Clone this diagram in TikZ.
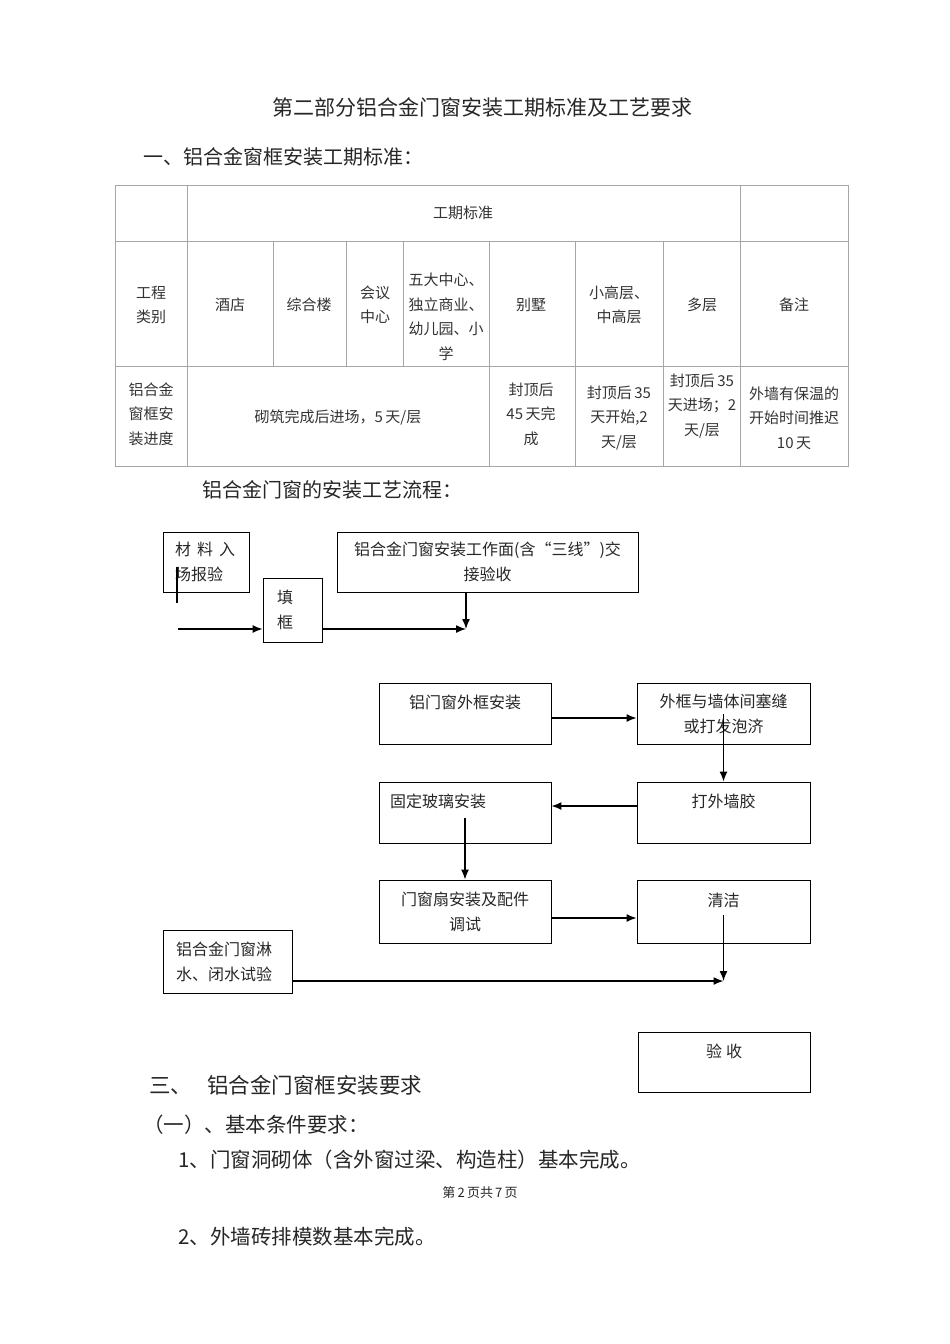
\documentclass[tikz,border=0pt]{standalone}
\usepackage{fontspec}
\setmainfont{Noto Sans CJK SC}
\usetikzlibrary{arrows.meta}
\usetikzlibrary{positioning}

\begin{document}
\begin{tikzpicture}
	[x=1pt,y=-1pt,
	 every node/.style={inner sep=0pt,text=black!85},
	 cell/.style={align=center,text=black!80,font=\fontsize{15}{24.5}\selectfont},
	 flowbox/.style={draw,line width=0.9pt,align=center,font=\fontsize{16}{25}\selectfont},
	 oneline/.style={text height=14pt,text depth=24pt},
	 flow/.style={-{Latex[length=10pt,width=8pt]},line width=1.4pt}]
	\useasboundingbox (0,0) rectangle (950,1344);
	
	\node[font=\fontsize{21}{21}\selectfont] (title) at (482,107) {第二部分铝合金门窗安装工期标准及工艺要求};
	\node[anchor=west,font=\fontsize{20}{20}\selectfont] (sec1) at (143,157) {一、铝合金窗框安装工期标准：};
	
	% table
	\draw[gray!70,line width=0.8pt] (115,185) rectangle (848,466);
	\draw[gray!70,line width=0.8pt] (115,241) -- (848,241) (115,366) -- (848,366);
	\foreach \x in {187,740}
	\draw[gray!70,line width=0.8pt] (\x,185) -- (\x,466);
	\foreach \x in {273,346,403}
	\draw[gray!70,line width=0.8pt] (\x,241) -- (\x,366);
	\foreach \x in {489,575,663}
	\draw[gray!70,line width=0.8pt] (\x,241) -- (\x,466);
	
	\node[cell] (period) at (463,213) {工期标准};
	\node[cell] (kind) at (151,305) {工程\\类别};
	\node[cell] (hotel) at (230,305) {酒店};
	\node[cell] (complex) at (309,305) {综合楼};
	\node[cell] (conf) at (375,305) {会议\\中心};
	\node[cell] (centre) at (446,317) {五大中心、\\独立商业、\\幼儿园、小\\学};
	\node[cell] (villa) at (531,305) {别墅};
	\node[cell] (highrise) at (619,305) {小高层、\\中高层};
	\node[cell] (multi) at (702,305) {多层};
	\node[cell] (note) at (794,305) {备注};
	\node[cell] (progress) at (151,414) {铝合金\\窗框安\\装进度};
	\node[cell] (masonry) at (338,417) {砌筑完成后进场，5\,天/层};
	\node[cell] (villa-d) at (531,414) {封顶后\\45\,天完\\成};
	\node[cell] (high-d) at (619,418) {封顶后\,35\\天开始,2\\天/层};
	\node[cell] (multi-d) at (702,406) {封顶后\,35\\天进场；2\\天/层};
	\node[cell] (note-d) at (794,418) {外墙有保温的\\开始时间推迟\\10\,天};
	
	% flow chart
	\node[anchor=west,font=\fontsize{20}{20}\selectfont] (flowtitle) at (202,490) {铝合金门窗的安装工艺流程：};
	
	\node[flowbox,minimum width=86pt,minimum height=60pt,text width=62pt,align=left,inner xsep=12pt] (mat) at (206,562) {材\hspace{6pt}料\hspace{6pt}入\\场报验};
	\node[flowbox,minimum width=59pt,minimum height=64pt,text width=31pt,align=left,inner xsep=14pt] (fill) at (292.5,610) {填\\框};
	\node[flowbox,minimum width=301pt,minimum height=60pt] (face) at (487.5,562) {铝合金门窗安装工作面(含“三线”)交\\接验收};
	\node[flowbox,oneline,minimum width=172pt,minimum height=61pt] (outer) at (465,713.5) {铝门窗外框安装};
	\node[flowbox,minimum width=173pt,minimum height=61pt] (seal) at (723.5,713.5) {外框与墙体间塞缝\\或打发泡济};
	\node[flowbox,oneline,minimum width=173pt,minimum height=61pt] (glue) at (723.5,812.5) {打外墙胶};
	\node[flowbox,oneline,minimum width=172pt,minimum height=61pt,text width=150pt,align=left,inner xsep=11pt] (glass) at (465,812.5) {固定玻璃安装};
	\node[flowbox,minimum width=172pt,minimum height=63pt] (sash) at (465,911.5) {门窗扇安装及配件\\调试};
	\node[flowbox,oneline,minimum width=173pt,minimum height=63pt] (clean) at (723.5,911.5) {清洁};
	\node[flowbox,minimum width=129pt,minimum height=63pt,text width=103pt,align=left,inner xsep=13pt] (test) at (227.5,961.5) {铝合金门窗淋\\水、闭水试验};
	\node[flowbox,oneline,minimum width=172pt,minimum height=60pt] (accept) at (724,1062) {验\hspace{4pt}收};
	
	\foreach \b in {mat,fill,face,outer,seal,glue,glass,sash,clean,test,accept}
	\draw[line width=1.5pt] (\b.north east) -- (\b.south east) -- (\b.south west);
	
	\coordinate (stub-a) at (177,567);
	\coordinate (stub-b) at (177,603);
	\coordinate (feed) at (178,629);
	\coordinate (meet) at (466,629);
	\coordinate (merge) at (723.5,981);
	
	\draw[line width=1.4pt] (stub-a) -- (stub-b);
	\draw[flow] (feed) -- (feed -| fill.west);
	\draw[flow] (fill.east |- meet) -- (meet);
	\draw[flow] (face.south -| meet) -- (meet);
	\draw[flow] ([yshift=-4.5pt]outer.east) -- ([yshift=-4.5pt]seal.west);
	\draw[flow] (seal.center) -- (glue.north);
	\draw[flow] ([yshift=6.5pt]glue.west) -- ([yshift=6.5pt]glass.east);
	\draw[flow] ([yshift=-5pt]glass.center) -- (sash.north);
	\draw[flow] ([yshift=-6.5pt]sash.east) -- ([yshift=-6.5pt]clean.west);
	\draw[flow] ([yshift=-3.5pt]clean.center) -- (merge);
	\draw[flow] (test.east |- merge) -- (merge);
	
	% text below
	\node[anchor=west,font=\fontsize{21.5}{21.5}\selectfont] (sec3) at (149,1085) {三、\hspace{15pt}铝合金门窗框安装要求};
	\node[anchor=west,font=\fontsize{20.5}{20.5}\selectfont] (basic) at (143,1125) {（一）、基本条件要求：};
	\node[anchor=west,font=\fontsize{20.5}{20.5}\selectfont] (item1) at (178,1160) {1、门窗洞砌体（含外窗过梁、构造柱）基本完成。};
	\node[font=\fontsize{13}{13}\selectfont] (footer) at (480,1193) {第\,2\,页共\,7\,页};
	\node[anchor=west,font=\fontsize{20.5}{20.5}\selectfont] (item2) at (178,1237) {2、外墙砖排模数基本完成。};
\end{tikzpicture}
\end{document}
